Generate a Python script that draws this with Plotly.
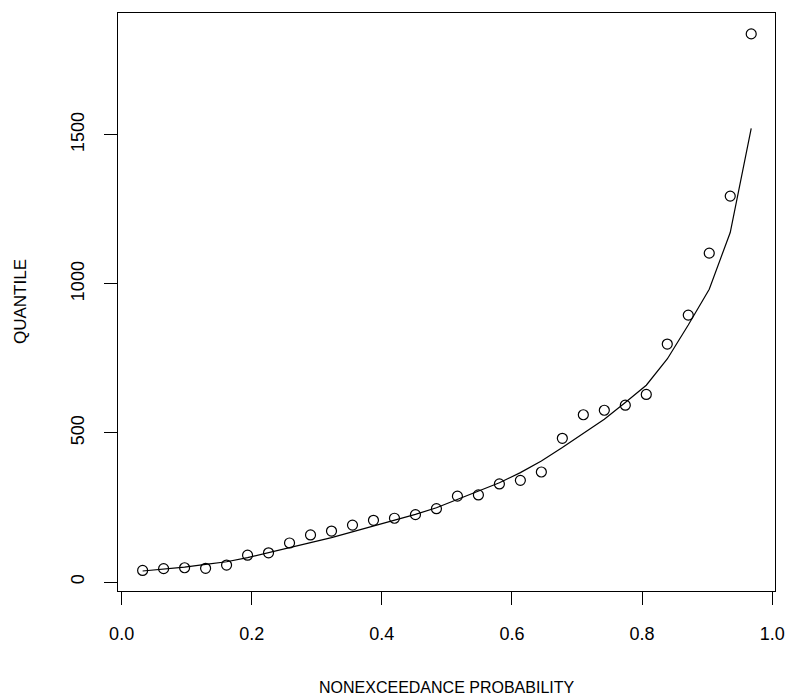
import plotly.graph_objects as go

# Plotting positions (Weibull, n = 30)
n_points = 30
prob = [i / (n_points + 1) for i in range(1, n_points + 1)]

# Observed quantiles (circles)
observed = [39, 45, 48, 46, 57, 90, 98, 131, 158, 171,
            191, 207, 214, 226, 246, 288, 292, 329, 341, 369,
            482, 561, 576, 593, 629, 798, 895, 1103, 1294, 1838]

# Fitted quantile curve
fitted = [37, 43, 50, 59, 68, 82, 98, 115, 132, 149,
          168, 188, 207, 227, 249, 277, 303, 333, 367, 406,
          451, 498, 546, 602, 660, 748, 862, 982, 1172, 1521]

x_ticks = [0.0, 0.2, 0.4, 0.6, 0.8, 1.0]
x_tick_text = ["0.0", "0.2", "0.4", "0.6", "0.8", "1.0"]
y_ticks = [0, 500, 1000, 1500]
y_tick_text = ["0", "500", "1000", "1500"]

FONT = "Liberation Sans, Arial, Helvetica, sans-serif"

fig = go.Figure()
fig.add_trace(go.Scatter(
    x=prob, y=observed, mode="markers",
    marker=dict(symbol="circle-open", size=10, color="black",
                line=dict(width=1.2, color="black")),
    showlegend=False, hoverinfo="skip"))
fig.add_trace(go.Scatter(
    x=prob, y=fitted, mode="lines",
    line=dict(color="black", width=1.2),
    showlegend=False, hoverinfo="skip"))

axis_common = dict(
    showgrid=False, zeroline=False, showline=True, mirror=True,
    linecolor="black", linewidth=1.2, ticks="outside", ticklen=13,
    tickwidth=1.2, tickcolor="black", ticklabelstandoff=13,
    tickfont=dict(family=FONT, size=18, color="black"))

fig.update_xaxes(range=[-0.0056, 1.0043], tickvals=x_ticks,
                 ticktext=x_tick_text, **axis_common)
fig.update_yaxes(range=[-30, 1908], tickvals=y_ticks,
                 ticktext=y_tick_text, tickangle=-90, **axis_common)

fig.add_annotation(text="NONEXCEEDANCE PROBABILITY", xref="paper", yref="paper",
                   x=0.5, y=0, yshift=-96, showarrow=False,
                   xanchor="center", yanchor="middle",
                   font=dict(family=FONT, size=16, color="black"))
fig.add_annotation(text="QUANTILE", xref="paper", yref="paper",
                   x=0, y=0.5, xshift=-98, showarrow=False, textangle=-90,
                   xanchor="center", yanchor="middle",
                   font=dict(family=FONT, size=17, color="black"))

fig.update_layout(
    width=797, height=700,
    margin=dict(l=118, r=17, t=12, b=109),
    plot_bgcolor="white", paper_bgcolor="white")

fig.write_html("out.html")
